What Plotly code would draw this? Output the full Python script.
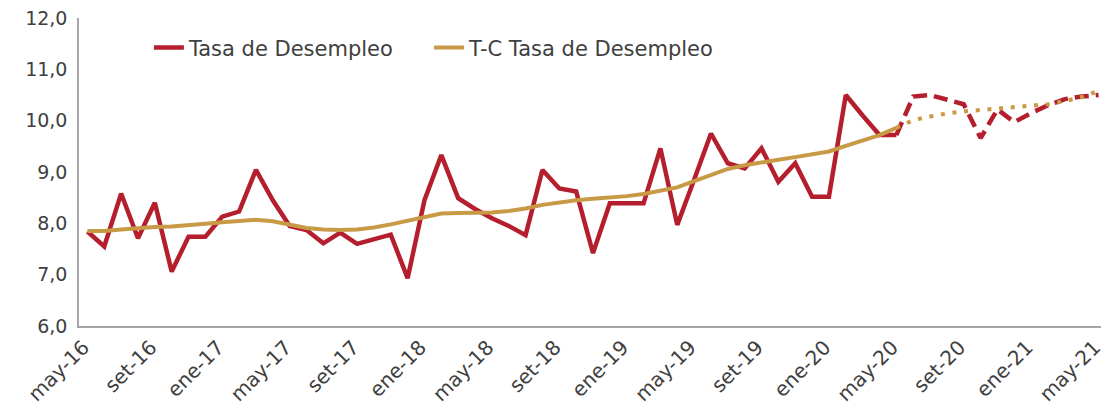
import plotly.graph_objects as go

meses = ["ene", "feb", "mar", "abr", "may", "jun", "jul", "ago", "set", "oct", "nov", "dic"]
months = [f"{meses[(4 + i) % 12]}-{16 + (4 + i) // 12}" for i in range(61)]
tick_labels = months[::4]

tasa = [7.84, 7.55, 8.58, 7.71, 8.40, 7.06, 7.74, 7.74, 8.13, 8.23,
        9.04, 8.45, 7.95, 7.87, 7.61, 7.82, 7.60, 7.69, 7.78, 6.93,
        8.45, 9.33, 8.49, 8.28, 8.10, 7.95, 7.77, 9.04, 8.68, 8.62,
        7.42, 8.39, 8.40, 8.39, 9.46, 7.97, 8.85, 9.75, 9.17, 9.07,
        9.46, 8.81, 9.17, 8.52, 8.52, 10.50, 10.10, 9.72, 9.72, 10.47,
        10.50, 10.42, 10.32, 9.66, 10.22, 9.97, 10.15, 10.30, 10.42, 10.47,
        10.50]

tc = [7.85, 7.85, 7.88, 7.91, 7.93, 7.94, 7.96, 7.99, 8.02, 8.05,
      8.07, 8.04, 7.97, 7.91, 7.88, 7.87, 7.88, 7.92, 7.98, 8.05,
      8.13, 8.19, 8.20, 8.20, 8.21, 8.24, 8.29, 8.36, 8.41, 8.45,
      8.48, 8.50, 8.53, 8.57, 8.63, 8.70, 8.82, 8.94, 9.06, 9.13,
      9.19, 9.24, 9.29, 9.34, 9.40, 9.51, 9.62, 9.72, 9.86, 10.01,
      10.08, 10.14, 10.18, 10.21, 10.23, 10.26, 10.29, 10.32, 10.38, 10.46,
      10.58]

split = 48  # last observed month (may-20)

RED = "#B41E2D"
GOLD = "#C99A45"
FONT = "DejaVu Sans"

fig = go.Figure()
fig.add_trace(go.Scatter(x=months[:split + 1], y=tasa[:split + 1], mode="lines",
                         name="Tasa de Desempleo", legend="legend",
                         line=dict(color=RED, width=4.5)))
fig.add_trace(go.Scatter(x=months[split:], y=tasa[split:], mode="lines",
                         showlegend=False, line=dict(color=RED, width=4.5, dash="14px,7px")))
fig.add_trace(go.Scatter(x=months[:split + 1], y=tc[:split + 1], mode="lines",
                         name="T-C Tasa de Desempleo", legend="legend2",
                         line=dict(color=GOLD, width=4)))
fig.add_trace(go.Scatter(x=months[split:], y=tc[split:], mode="lines",
                         showlegend=False, line=dict(color=GOLD, width=4, dash="4px,7.7px")))

legend_font = dict(size=21, family=FONT, color="#404040")
fig.update_layout(
    width=1101, height=408,
    margin=dict(l=71, r=2, t=10, b=90, autoexpand=False),
    plot_bgcolor="white", paper_bgcolor="white",
    separators=",.",
    font=dict(family=FONT, color="#404040", size=18),
    legend=dict(orientation="h", x=0.068, y=0.97, xanchor="left", yanchor="top",
                font=legend_font, bgcolor="rgba(0,0,0,0)"),
    legend2=dict(orientation="h", x=0.3405, y=0.97, xanchor="left", yanchor="top",
                 font=legend_font, bgcolor="rgba(0,0,0,0)"),
    xaxis=dict(type="category", range=[-0.5, 60.5], tickmode="array",
               tickvals=tick_labels, ticktext=tick_labels, tickangle=-45,
               showline=True, linecolor="#A6A6A6", linewidth=1.5, ticks="",
               showgrid=False, zeroline=False, automargin=False,
               ticklabeloverflow="allow", ticklabelshift=-4,
               tickfont=dict(size=20, family=FONT, color="#404040")),
    yaxis=dict(range=[6, 12], dtick=1, tick0=6, tickformat=".1f",
               showline=True, linecolor="#A6A6A6", linewidth=1.5, ticks="",
               showgrid=False, zeroline=False, ticklabelstandoff=6, automargin=False,
               ticklabeloverflow="allow",
               tickfont=dict(size=19, family=FONT, color="#404040")),
)

fig.write_html("out.html")
